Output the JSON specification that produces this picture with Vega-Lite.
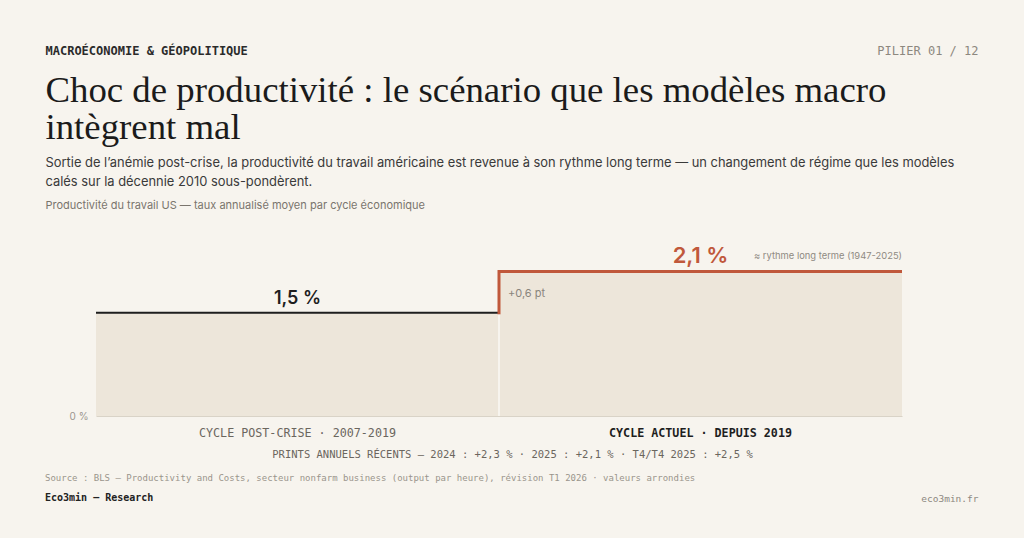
{
  "$schema": "https://vega.github.io/schema/vega-lite/v6.json",
  "width": 806,
  "height": 172,
  "autosize": {"type": "none"},
  "padding": {"left": 96, "top": 244, "right": 122, "bottom": 122},
  "background": "#f7f4ee",
  "title": {
    "text": "Source : BLS — Productivity and Costs, secteur nonfarm business (output par heure), révision T1 2026 · valeurs arrondies",
    "subtitle": "Eco3min — Research",
    "orient": "bottom",
    "anchor": "start",
    "frame": "group",
    "dx": -51,
    "dy": -29,
    "offset": 0,
    "font": "DejaVu Sans Mono",
    "fontSize": 9,
    "fontWeight": "normal",
    "color": "#9a958c",
    "subtitleFont": "DejaVu Sans Mono",
    "subtitleFontSize": 10,
    "subtitleFontWeight": "bold",
    "subtitleColor": "#222222",
    "subtitlePadding": 10
  },
  "datasets": {
    "cycles": [
      {"cycle": "CYCLE POST-CRISE · 2007-2019", "rate": 1.5},
      {"cycle": "CYCLE ACTUEL · DEPUIS 2019", "rate": 2.1, "previous": 1.5, "note": "+0,6 pt", "reference": "≈ rythme long terme (1947-2025)"}
    ],
    "header": [
      {"slot": "MACROÉCONOMIE & GÉOPOLITIQUE", "site": "eco3min.fr"},
      {"slot": "PILIER 01 / 12", "site": "eco3min.fr"}
    ]
  },
  "layer": [
    {
      "data": {"name": "cycles"},
      "layer": [
        {
          "mark": {"type": "bar", "color": "#ede6da"},
          "encoding": {
            "x": {
              "field": "cycle",
              "type": "nominal",
              "sort": null,
              "scale": {"type": "band", "paddingInner": 0, "paddingOuter": 0},
              "axis": {
                "orient": "bottom",
                "domain": true,
                "domainColor": "#d9d3c7",
                "domainWidth": 1,
                "ticks": false,
                "tickSize": 0,
                "labelAngle": 0,
                "labelLimit": 0,
                "labelPadding": 20,
                "labelBaseline": "alphabetic",
                "labelFont": "DejaVu Sans Mono",
                "labelFontSize": 11.7,
                "labelColor": {"condition": {"test": "datum.value == 'CYCLE ACTUEL · DEPUIS 2019'", "value": "#1e1e1e"}, "value": "#6b665e"},
                "labelFontWeight": {"condition": {"test": "datum.value == 'CYCLE ACTUEL · DEPUIS 2019'", "value": "bold"}, "value": "normal"},
                "title": "PRINTS ANNUELS RÉCENTS — 2024 : +2,3 % · 2025 : +2,1 % · T4/T4 2025 : +2,5 %",
                "titleFont": "DejaVu Sans Mono",
                "titleFontSize": 10.5,
                "titleFontWeight": "normal",
                "titleColor": "#6b665e",
                "titleAlign": "center",
                "titleBaseline": "alphabetic",
                "titleX": 416,
                "titleY": 41
              }
            },
            "y": {
              "field": "rate",
              "type": "quantitative",
              "scale": {"domain": [0, 2.5], "nice": false},
              "axis": {
                "orient": "left",
                "values": [0],
                "format": "$.0f",
                "domain": false,
                "ticks": false,
                "tickSize": 0,
                "grid": false,
                "labelFont": "Inter",
                "labelFontSize": 10,
                "labelColor": "#9b968e",
                "labelPadding": 8,
                "title": "Productivité du travail US — taux annualisé moyen par cycle économique",
                "titleFont": "Inter",
                "titleFontSize": 11,
                "titleFontWeight": "normal",
                "titleColor": "#7a756d",
                "titleAngle": 0,
                "titleAlign": "left",
                "titleBaseline": "alphabetic",
                "titleLimit": 0,
                "titleX": -51,
                "titleY": -36
              }
            }
          }
        },
        {
          "transform": [{"filter": "datum.previous != null"}],
          "mark": {"type": "rule", "color": "#f7f4ee", "strokeWidth": 2},
          "encoding": {
            "x": {"field": "cycle", "type": "nominal", "sort": null, "bandPosition": 0},
            "y": {"field": "previous", "type": "quantitative"},
            "y2": {"datum": 0}
          }
        },
        {
          "mark": {"type": "bar", "fillOpacity": 0},
          "encoding": {
            "x": {"field": "cycle", "type": "nominal", "sort": null},
            "y": {"field": "rate", "type": "quantitative"},
            "y2": {"field": "rate"},
            "stroke": {
              "field": "cycle",
              "type": "nominal",
              "scale": {"domain": ["CYCLE POST-CRISE · 2007-2019", "CYCLE ACTUEL · DEPUIS 2019"], "range": ["#1e1e1e", "#c0583b"]},
              "legend": null
            },
            "strokeWidth": {
              "field": "cycle",
              "type": "nominal",
              "scale": {"type": "ordinal", "domain": ["CYCLE POST-CRISE · 2007-2019", "CYCLE ACTUEL · DEPUIS 2019"], "range": [2, 3]},
              "legend": null
            }
          }
        },
        {
          "transform": [{"filter": "datum.previous != null"}],
          "mark": {"type": "rule", "color": "#c0583b", "strokeWidth": 3, "strokeCap": "square"},
          "encoding": {
            "x": {"field": "cycle", "type": "nominal", "sort": null, "bandPosition": 0},
            "y": {"field": "previous", "type": "quantitative"},
            "y2": {"field": "rate"}
          }
        },
        {
          "mark": {"type": "text", "font": "Inter", "fontWeight": 600, "baseline": "alphabetic", "align": "center", "dy": -9},
          "encoding": {
            "x": {"field": "cycle", "type": "nominal", "sort": null},
            "y": {"field": "rate", "type": "quantitative"},
            "text": {"field": "rate", "type": "quantitative", "format": "$.1f"},
            "color": {
              "field": "cycle",
              "type": "nominal",
              "scale": {"domain": ["CYCLE POST-CRISE · 2007-2019", "CYCLE ACTUEL · DEPUIS 2019"], "range": ["#1e1e1e", "#c0583b"]},
              "legend": null
            },
            "size": {
              "field": "cycle",
              "type": "nominal",
              "scale": {"type": "ordinal", "domain": ["CYCLE POST-CRISE · 2007-2019", "CYCLE ACTUEL · DEPUIS 2019"], "range": [18, 22]},
              "legend": null
            }
          }
        },
        {
          "transform": [{"filter": "datum.note != null"}],
          "mark": {"type": "text", "font": "Inter", "fontSize": 11, "color": "#8a857d", "align": "left", "baseline": "alphabetic", "dx": 9, "dy": 25},
          "encoding": {
            "x": {"field": "cycle", "type": "nominal", "sort": null, "bandPosition": 0},
            "y": {"field": "rate", "type": "quantitative"},
            "text": {"field": "note"}
          }
        },
        {
          "transform": [{"filter": "datum.reference != null"}],
          "mark": {"type": "text", "font": "Inter", "fontSize": 9.4, "color": "#8f8a82", "align": "right", "baseline": "alphabetic", "dy": -13},
          "encoding": {
            "x": {"field": "cycle", "type": "nominal", "sort": null, "bandPosition": 1},
            "y": {"field": "rate", "type": "quantitative"},
            "text": {"field": "reference"}
          }
        }
      ]
    },
    {
      "data": {"name": "header"},
      "mark": {"type": "point", "opacity": 0},
      "encoding": {
        "x": {
          "field": "slot",
          "type": "nominal",
          "sort": null,
          "scale": {"type": "point", "padding": 0},
          "axis": {
            "orient": "top",
            "domain": false,
            "ticks": false,
            "tickSize": 0,
            "grid": false,
            "labelAngle": 0,
            "labelLimit": 0,
            "labelPadding": 190,
            "labelBaseline": "alphabetic",
            "labelOverlap": false,
            "labelFlush": false,
            "labelFont": "DejaVu Sans Mono",
            "labelFontSize": 12,
            "labelAlign": {"condition": {"test": "datum.value == 'PILIER 01 / 12'", "value": "right"}, "value": "left"},
            "labelOffset": {"condition": {"test": "datum.value == 'PILIER 01 / 12'", "value": 76}, "value": -51},
            "labelColor": {"condition": {"test": "datum.value == 'PILIER 01 / 12'", "value": "#8d887f"}, "value": "#2b2b2b"},
            "labelFontWeight": {"condition": {"test": "datum.value == 'PILIER 01 / 12'", "value": "normal"}, "value": "bold"},
            "title": ["Choc de productivité : le scénario que les modèles macro", "intègrent mal"],
            "titleFont": "Liberation Serif",
            "titleFontSize": 36.8,
            "titleFontWeight": "normal",
            "titleColor": "#1b1b1b",
            "titleAngle": 0,
            "titleAlign": "left",
            "titleBaseline": "alphabetic",
            "titleLimit": 0,
            "titleLineHeight": 37,
            "titleX": -51,
            "titleY": -143
          }
        },
        "y": {
          "field": "site",
          "type": "nominal",
          "scale": {"type": "point"},
          "axis": {
            "orient": "right",
            "domain": false,
            "ticks": false,
            "tickSize": 0,
            "grid": false,
            "labelLimit": 0,
            "labelPadding": 76,
            "labelAlign": "right",
            "labelBaseline": "alphabetic",
            "labelOffset": 171,
            "labelFont": "DejaVu Sans Mono",
            "labelFontSize": 9.5,
            "labelColor": "#8d887f",
            "title": ["Sortie de l’anémie post-crise, la productivité du travail américaine est revenue à son rythme long terme — un changement de régime que les modèles", "calés sur la décennie 2010 sous-pondèrent."],
            "titleFont": "Inter",
            "titleFontSize": 12.9,
            "titleFontWeight": "normal",
            "titleColor": "#3a3a3a",
            "titleAngle": 0,
            "titleAlign": "left",
            "titleBaseline": "alphabetic",
            "titleLimit": 0,
            "titleLineHeight": 19,
            "titleX": -857,
            "titleY": -78
          }
        }
      }
    }
  ],
  "resolve": {"scale": {"x": "independent", "y": "independent"}},
  "config": {
    "view": {"stroke": null},
    "axis": {"grid": false},
    "locale": {"number": {"decimal": ",", "thousands": " ", "grouping": [3], "currency": ["", " %"]}}
  }
}
